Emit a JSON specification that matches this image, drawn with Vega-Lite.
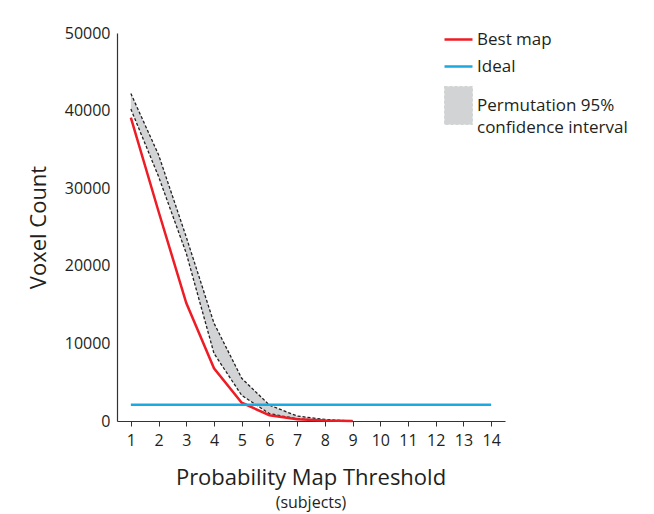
{
  "$schema": "https://vega.github.io/schema/vega-lite/v6.json",
  "autosize": "none",
  "width": 388,
  "height": 388,
  "padding": {"left": 117, "top": 33, "right": 149, "bottom": 93},
  "background": "white",
  "config": {
    "view": {"stroke": null},
    "font": "Open Sans",
    "axis": {"labelFont": "Open Sans", "titleFont": "Open Sans", "labelColor": "#231f20", "titleColor": "#231f20", "domainColor": "#333333", "tickColor": "#333333", "grid": false}
  },
  "title": {
    "text": "Probability Map Threshold",
    "subtitle": "(subjects)",
    "orient": "bottom",
    "anchor": "middle",
    "fontSize": 22,
    "fontWeight": "normal",
    "font": "Open Sans",
    "color": "#231f20",
    "subtitleFontSize": 16,
    "subtitleFont": "Open Sans",
    "subtitleColor": "#231f20",
    "subtitlePadding": 5,
    "offset": 20
  },
  "datasets": {
    "lines": [
      {"x": 1, "value": 39100, "series": "Best map"},
      {"x": 2, "value": 27000, "series": "Best map"},
      {"x": 3, "value": 15200, "series": "Best map"},
      {"x": 4, "value": 6800, "series": "Best map"},
      {"x": 5, "value": 2350, "series": "Best map"},
      {"x": 6, "value": 750, "series": "Best map"},
      {"x": 7, "value": 220, "series": "Best map"},
      {"x": 8, "value": 50, "series": "Best map"},
      {"x": 9, "value": 0, "series": "Best map"},
      {"x": 1, "value": 2100, "series": "Ideal"},
      {"x": 14, "value": 2100, "series": "Ideal"}
    ],
    "band": [
      {"x": 1, "lo": 40200, "hi": 42200},
      {"x": 2, "lo": 31500, "hi": 34300},
      {"x": 3, "lo": 21600, "hi": 23700},
      {"x": 4, "lo": 8700, "hi": 12600},
      {"x": 5, "lo": 3300, "hi": 5500},
      {"x": 6, "lo": 950, "hi": 2050},
      {"x": 7, "lo": 280, "hi": 640},
      {"x": 8, "lo": 50, "hi": 200},
      {"x": 9, "lo": 0, "hi": 0}
    ]
  },
  "encoding": {
    "x": {
      "field": "x", "type": "quantitative",
      "scale": {"domain": [0.5, 14.5], "nice": false, "zero": false},
      "axis": {"values": [1,2,3,4,5,6,7,8,9,10,11,12,13,14], "title": null, "labelFontSize": 16, "tickSize": 5, "labelPadding": 6, "labelFlush": false, "domainWidth": 1.2}
    }
  },
  "layer": [
    {
      "data": {"name": "band"},
      "transform": [{"calculate": "'Permutation 95% confidence interval'", "as": "series"}],
      "mark": {"type": "area", "opacity": 1},
      "encoding": {
        "y": {"field": "lo", "type": "quantitative"},
        "y2": {"field": "hi"},
        "color": {"field": "series", "type": "nominal"}
      }
    },
    {
      "data": {"name": "band"},
      "mark": {"type": "line", "color": "#231f20", "strokeWidth": 1.3, "strokeDash": [3, 2]},
      "encoding": {"y": {"field": "lo", "type": "quantitative"}}
    },
    {
      "data": {"name": "band"},
      "mark": {"type": "line", "color": "#231f20", "strokeWidth": 1.3, "strokeDash": [3, 2]},
      "encoding": {"y": {"field": "hi", "type": "quantitative"}}
    },
    {
      "data": {"name": "lines"},
      "mark": {"type": "line", "strokeWidth": 2.5},
      "encoding": {
        "y": {
          "field": "value", "type": "quantitative",
          "scale": {"domain": [0, 50000], "nice": false},
          "axis": {"values": [0, 10000, 20000, 30000, 40000, 50000], "format": "d", "title": "Voxel Count", "titleFontSize": 22, "titleFontWeight": "normal", "titlePadding": 14, "labelFontSize": 16, "ticks": false, "labelPadding": 7, "domainWidth": 1.2}
        },
        "color": {
          "field": "series", "type": "nominal",
          "scale": {"domain": ["Best map", "Ideal", "Permutation 95% confidence interval"], "range": ["#ee1c25", "#1aa9e1", "#d1d3d4"]},
          "legend": {
            "title": null,
            "orient": "none",
            "legendX": 333,
            "legendY": -2,
            "padding": 0,
            "labelFontSize": 17,
            "labelFont": "Open Sans",
            "labelColor": "#231f20",
            "labelLimit": 300,
            "labelOffset": 10,
            "rowPadding": 9,
            "symbolSize": 784,
            "symbolStrokeWidth": 2.5,
            "labelExpr": "datum.label == 'Permutation 95% confidence interval' ? ['Permutation 95%', 'confidence interval'] : datum.label",
            "encode": {
              "labels": {"update": {"lineHeight": {"value": 22}}},
              "symbols": {
                "update": {
                  "size": {"value": 784},
                  "shape": {"signal": "datum.value == 'Permutation 95% confidence interval' ? 'M-1,-1.36H1V1.36H-1Z' : 'stroke'"},
                  "fill": {"signal": "datum.value == 'Permutation 95% confidence interval' ? '#d1d3d4' : 'transparent'"},
                  "stroke": {"signal": "datum.value == 'Permutation 95% confidence interval' ? '#231f20' : (datum.value == 'Best map' ? '#ee1c25' : '#1aa9e1')"},
                  "strokeDash": {"signal": "datum.value == 'Permutation 95% confidence interval' ? [3, 2] : [1, 0]"},
                  "strokeWidth": {"signal": "datum.value == 'Permutation 95% confidence interval' ? 1 : 2.5"}
                }
              }
            }
          }
        }
      }
    }
  ]
}
